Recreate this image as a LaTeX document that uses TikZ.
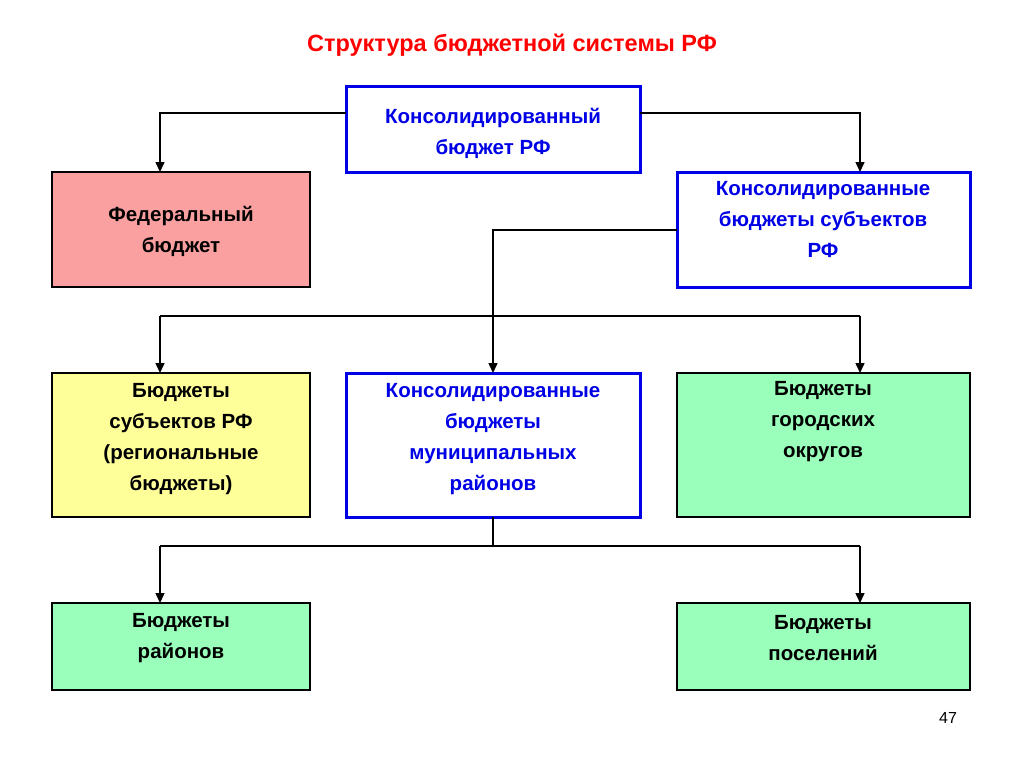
\documentclass[tikz,border=0pt]{standalone}
\usepackage{fontspec}
\setmainfont{Liberation Sans}
\usetikzlibrary{arrows.meta}
\definecolor{bblue}{RGB}{0,0,230}
\definecolor{pinkf}{RGB}{250,160,160}
\definecolor{yelf}{RGB}{255,255,153}
\definecolor{grnf}{RGB}{153,255,187}
\tikzset{
 box/.style={draw=black,line width=1.5pt},
 bbox/.style={draw=bblue,line width=3pt,fill=white},
 txt/.style={align=center,font=\fontsize{20.5}{31}\selectfont\bfseries},
 conn/.style={line width=1.5pt},
 arr/.style={conn,-{Triangle[length=10pt,width=9pt]}}
}
\begin{document}
\begin{tikzpicture}[x=1pt,y=-1pt]
\useasboundingbox (0,0) rectangle (1024,768);
\node[text=red,font=\fontsize{23.5}{26}\selectfont\bfseries] (title) at (512,45) {Структура бюджетной системы РФ};
\draw[bbox] (346,86) rectangle (640,172);
\node[txt,text=bblue] (top) at (493,133) {Консолидированный\\бюджет РФ};
\draw[box,fill=pinkf] (52,172) rectangle (310,287);
\node[txt] (fed) at (181,231) {Федеральный\\бюджет};
\draw[box,fill=white,draw=bblue,line width=3pt] (677,172) rectangle (970,287);
\node[txt,text=bblue] (cons) at (823,219) {Консолидированные\\бюджеты субъектов\\РФ};
\draw[box,fill=yelf] (52,373) rectangle (310,517);
\node[txt] (reg) at (181,439) {Бюджеты\\субъектов РФ\\(региональные\\бюджеты)};
\draw[bbox] (346,373) rectangle (640,517);
\node[txt,text=bblue] (mun) at (493,439) {Консолидированные\\бюджеты\\муниципальных\\районов};
\draw[box,fill=grnf] (677,373) rectangle (970,517);
\node[txt] (city) at (823,422) {Бюджеты\\городских\\округов};
\draw[box,fill=grnf] (52,603) rectangle (310,690);
\node[txt] (rai) at (181,638) {Бюджеты\\районов};
\draw[box,fill=grnf] (677,603) rectangle (970,690);
\node[txt] (pos) at (823,638) {Бюджеты\\поселений};
\node[font=\fontsize{16}{18}\selectfont] (num) at (948,718) {47};
\coordinate (a1) at (346,113); \coordinate (a2) at (640,113);
\draw[arr] (a1) -| (160,172);
\draw[arr] (a2) -| (860,172);
\draw[arr] (677,230) -| (493,373);
\draw[conn] (160,316) -- (860,316);
\draw[arr] (160,316) -- (160,373);
\draw[arr] (860,316) -- (860,373);
\draw[conn] (493,517) -- (493,546);
\draw[conn] (160,546) -- (860,546);
\draw[arr] (160,546) -- (160,603);
\draw[arr] (860,546) -- (860,603);
\end{tikzpicture}
\end{document}
